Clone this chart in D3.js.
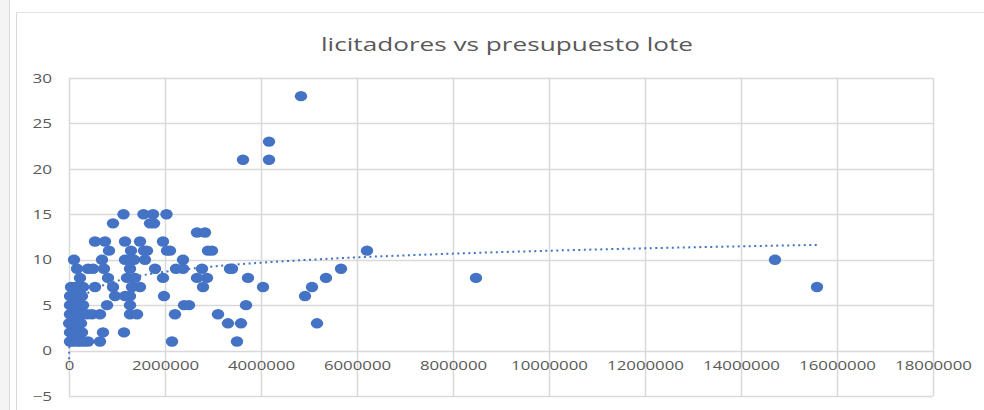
<!DOCTYPE html>
<html>
<head>
<meta charset="utf-8">
<script src="https://cdn.jsdelivr.net/npm/d3@7"></script>
<style>
  html, body { margin: 0; padding: 0; background: #ffffff; }
  svg { display: block; }
  text { font-family: "Open Sans", "DejaVu Sans", sans-serif; fill: #595959; }
</style>
</head>
<body>
<svg id="chart" width="984" height="410"></svg>
<script>
// Presupuesto del lote (eje X) y número de licitadores (eje Y), por lote
const presupuestoLote = [
  4833000,
  4167000,
  3625000, 4167000,
  1135000, 1552000, 1750000, 2031000,
  917000, 1688000, 1771000,
  2667000, 2833000,
  542000, 750000, 1167000, 1479000, 1958000,
  833000, 1292000, 1562000, 1625000, 2042000, 2104000, 2896000, 2979000, 6208000,
  104000, 688000, 1167000, 1271000, 1354000, 1583000, 2375000, 14708000,
  167000, 396000, 500000, 729000, 1271000, 1792000, 2229000, 2375000, 2771000, 3354000, 3396000, 5667000,
  229000, 812000, 1208000, 1375000, 1958000, 2667000, 2875000, 3729000, 5354000, 8479000,
  42000, 125000, 208000, 292000, 542000, 917000, 1312000, 1479000, 2792000, 4042000, 5063000, 15583000,
  21000, 104000, 188000, 271000, 958000, 1167000, 1271000, 1979000, 4917000,
  21000, 104000, 188000, 292000, 792000, 1271000, 2396000, 2500000, 3688000,
  21000, 104000, 188000, 271000, 375000, 479000, 646000, 1271000, 1417000, 2208000, 3104000,
  2500, 83000, 167000, 250000, 3312000, 3583000, 5167000,
  21000, 104000, 188000, 271000, 708000, 1146000,
  21000, 83000, 167000, 229000, 312000, 396000, 646000, 2146000, 3500000
];
const licitadores = [
  28,
  23,
  21, 21,
  15, 15, 15, 15,
  14, 14, 14,
  13, 13,
  12, 12, 12, 12, 12,
  11, 11, 11, 11, 11, 11, 11, 11, 11,
  10, 10, 10, 10, 10, 10, 10, 10,
  9, 9, 9, 9, 9, 9, 9, 9, 9, 9, 9, 9,
  8, 8, 8, 8, 8, 8, 8, 8, 8, 8,
  7, 7, 7, 7, 7, 7, 7, 7, 7, 7, 7, 7,
  6, 6, 6, 6, 6, 6, 6, 6, 6,
  5, 5, 5, 5, 5, 5, 5, 5, 5,
  4, 4, 4, 4, 4, 4, 4, 4, 4, 4, 4,
  3, 3, 3, 3, 3, 3, 3,
  2, 2, 2, 2, 2, 2,
  1, 1, 1, 1, 1, 1, 1, 1, 1
];

const xTicks = [0, 2000000, 4000000, 6000000, 8000000, 10000000, 12000000, 14000000, 16000000, 18000000];
const yTicks = [-5, 0, 5, 10, 15, 20, 25, 30];

// Línea de tendencia logarítmica: y = a·ln(x) + b
const trendSlope = 1.44;
const trendIntercept = -12.22;

const titleText = "licitadores vs presupuesto lote";

const points = presupuestoLote.map((p, i) => ({ x: p, y: licitadores[i] }));

const svg = d3.select("#chart");
const W = 984, H = 410;

// Chart frame
svg.append("rect").attr("x", 0).attr("y", 0).attr("width", 9).attr("height", H).attr("fill", "#f4f4f4");
svg.append("line").attr("x1", 9.5).attr("x2", 9.5).attr("y1", 0).attr("y2", H).attr("stroke", "#d9d9d9");
svg.append("line").attr("x1", 16.5).attr("x2", 16.5).attr("y1", 12).attr("y2", H).attr("stroke", "#d9d9d9");
svg.append("line").attr("x1", 16.5).attr("x2", W).attr("y1", 12.5).attr("y2", 12.5).attr("stroke", "#e3e3e3");

const plot = { left: 69, right: 933, top: 78, bottom: 396 };

const x = d3.scaleLinear().domain([0, 18000000]).range([plot.left, plot.right]);
const y = d3.scaleLinear().domain([-5, 30]).range([plot.bottom, plot.top]);

// Gridlines
const grid = svg.append("g");
grid.selectAll("line.h").data(yTicks).join("line")
  .attr("x1", plot.left).attr("x2", plot.right)
  .attr("y1", d => Math.round(y(d)) + 0.5).attr("y2", d => Math.round(y(d)) + 0.5)
  .attr("stroke", "#d9d9d9").attr("stroke-width", 1.5);
grid.selectAll("line.v").data(xTicks).join("line")
  .attr("x1", d => Math.round(x(d)) + 0.5).attr("x2", d => Math.round(x(d)) + 0.5)
  .attr("y1", plot.top).attr("y2", plot.bottom)
  .attr("stroke", "#d9d9d9").attr("stroke-width", 1.5);

// Axes (labels only; lines come from the grid)
const xAxis = svg.append("g")
  .attr("transform", `translate(0,${y(0)})`)
  .call(d3.axisBottom(x).tickValues(xTicks).tickSize(0).tickPadding(18).tickFormat(d3.format("d")));
xAxis.select(".domain").remove();
xAxis.selectAll("text")
  .attr("font-size", 13).attr("fill", "#595959").attr("dy", "0.1em")
  .attr("font-family", "'Open Sans', sans-serif")
  .each(function(d) {
    const s = String(d);
    d3.select(this).attr("textLength", s.length * 9.6).attr("lengthAdjust", "spacingAndGlyphs");
  });

const yAxis = svg.append("g")
  .attr("transform", `translate(52,0)`)
  .call(d3.axisLeft(y).tickValues(yTicks).tickSize(0).tickPadding(0).tickFormat(d3.format("d")));
yAxis.select(".domain").remove();
yAxis.selectAll("text")
  .attr("font-size", 13).attr("fill", "#595959")
  .attr("font-family", "'Open Sans', sans-serif")
  .each(function(d) {
    const s = String(d);
    d3.select(this).attr("textLength", s.length * 9.8).attr("lengthAdjust", "spacingAndGlyphs");
  });

// Trend line across the range of the data
const xMin = d3.min(presupuestoLote), xMax = d3.max(presupuestoLote);
const trendX = d3.range(0, 401).map(i => Math.exp(Math.log(xMin) + (Math.log(xMax) - Math.log(xMin)) * i / 400));
const trend = d3.line().x(d => x(d)).y(d => y(trendSlope * Math.log(d) + trendIntercept));
svg.append("path")
  .attr("d", trend(trendX))
  .attr("fill", "none").attr("stroke", "#4472C4").attr("stroke-width", 2)
  .attr("stroke-dasharray", "2,3.5");

// Markers
svg.append("g").selectAll("ellipse").data(points).join("ellipse")
  .attr("cx", d => x(d.x)).attr("cy", d => y(d.y))
  .attr("rx", 6.2).attr("ry", 5.2)
  .attr("fill", "#4472C4");

// Title
svg.append("text")
  .attr("x", 507).attr("y", 51)
  .attr("text-anchor", "middle")
  .attr("font-size", 19).attr("fill", "#595959")
  .attr("textLength", 372).attr("lengthAdjust", "spacingAndGlyphs")
  .text(titleText);
</script>
</body>
</html>
